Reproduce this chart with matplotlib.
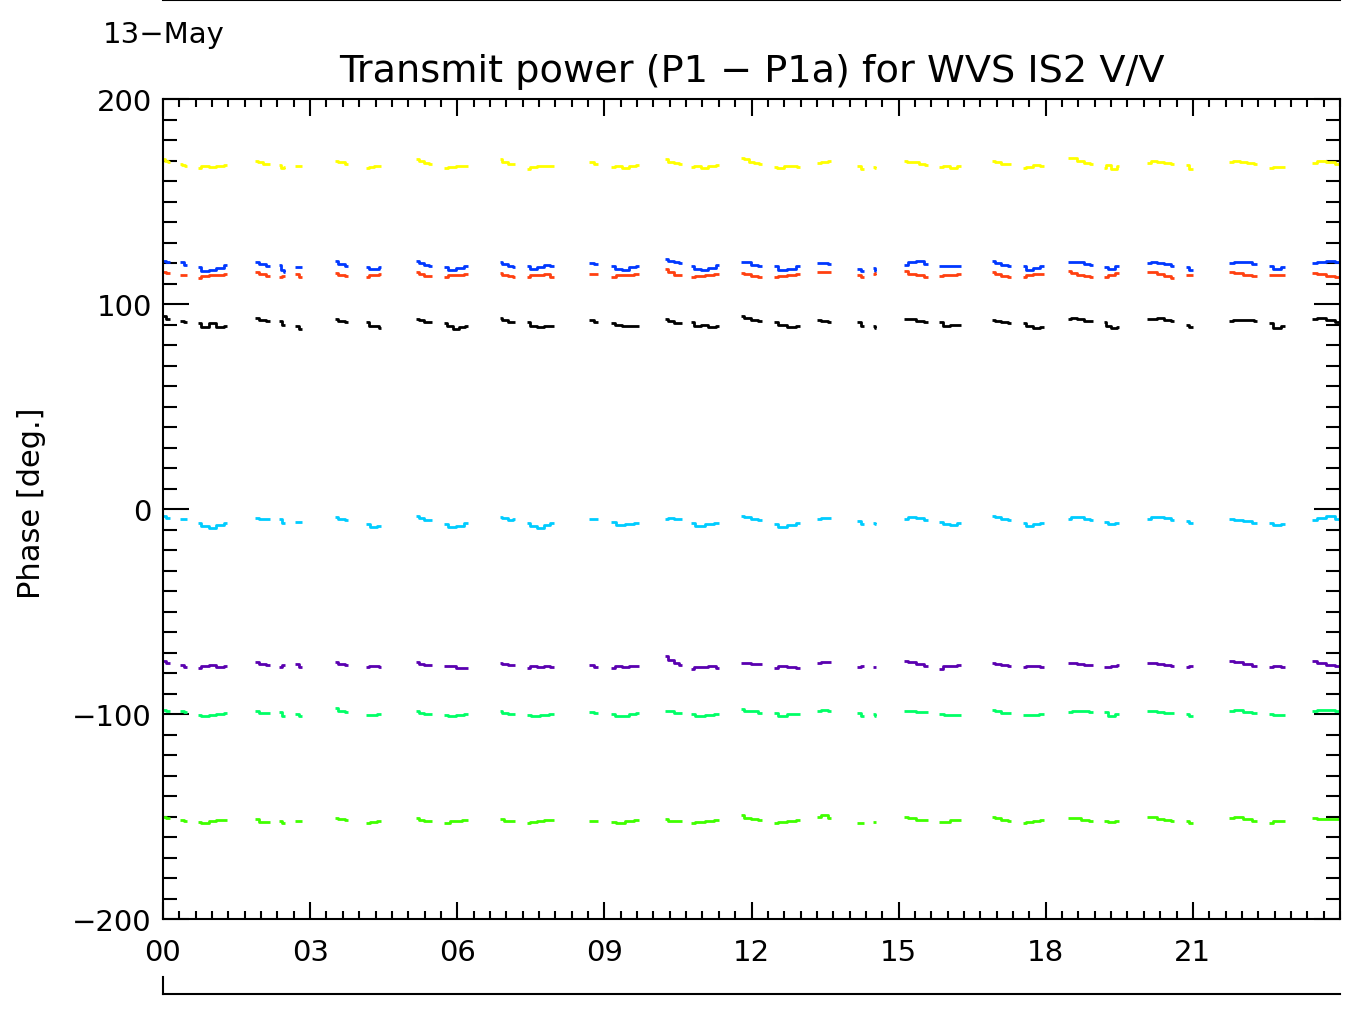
import numpy as np
import matplotlib
matplotlib.use("Agg")
import matplotlib.pyplot as plt
from matplotlib.ticker import MultipleLocator, FixedLocator, FixedFormatter
from matplotlib.lines import Line2D

# ---------------- data ----------------
title = "Transmit power (P1 \u2212 P1a) for WVS IS2 V/V"
date_label = "13\u2212May"
y_label = "Phase [deg.]"
x_tick_pos = [0, 3, 6, 9, 12, 15, 18, 21]
x_tick_labels = ["00", "03", "06", "09", "12", "15", "18", "21"]
y_tick_pos = [-200, -100, 0, 100, 200]

# data segments (hours UTC)
seg_start = [0.00, 0.35, 0.71, 1.88, 2.37, 2.69, 3.51, 4.14, 5.16, 5.73, 6.87, 7.42,
             8.69, 9.135, 10.24, 10.76, 11.786, 12.46, 13.34, 14.15, 14.48, 15.11,
             15.82, 16.90, 17.53, 18.45, 19.18, 20.07, 20.86, 21.74, 22.55, 23.43]
seg_end = [0.14, 0.49, 1.31, 2.18, 2.49, 2.84, 3.77, 4.45, 5.48, 6.22, 7.18, 7.97,
           8.87, 9.71, 10.58, 11.34, 12.21, 12.99, 13.62, 14.30, 14.54, 15.60,
           16.27, 17.29, 17.96, 18.97, 19.50, 20.62, 21.00, 22.31, 22.88, 24.0]

yellow = [[170.5, 170, 169.5], [168.5, 168, 167.5], [166.5, 167.5, 167, 167.5, 168],
          [170, 169.5, 168.5, 168.5], [168, 166.5, 167], [167.5, 167.5],
          [170, 169.5, 168.5], [166.5, 167, 167.5, 167.5], [170.5, 170, 169, 168.5],
          [166.5, 167, 167.5, 167.5], [170.5, 169.5, 168.5, 168.5],
          [166, 167, 167.5, 167.5, 167.5], [169.5, 168.5], [167, 167.5, 166.5, 167.5, 168],
          [170.5, 169.5, 169, 168.5], [167, 167.5, 166.5, 167.5, 168],
          [171, 170.5, 169.5, 169, 168.5], [167, 166.5, 167.5, 167.5, 167],
          [169, 169.5, 170], [167.5, 166], [167, 166.5], [170, 169.5, 169.5, 168.5, 168],
          [167, 167.5, 166.5, 167.5], [170, 169.5, 168.5, 168.5], [166.5, 167, 168, 167.5],
          [171, 171, 170, 169, 168.5], [166.5, 168, 166, 167.5],
          [169, 170, 169.5, 169, 168.5], [168, 166], [169.5, 170, 169.5, 169, 168.5],
          [166.5, 167, 167], [169, 170, 169.5, 168.5]]

blue = [[121, 120.5], [120.5, 119], [118, 116, 116.5, 117.5, 119], [120.5, 119.5, 118.5],
        [119, 116.5, 115.5], [118, 118], [121, 119.5, 118.5], [118, 117, 117, 118],
        [121, 120, 119, 118.5], [118, 116.5, 117.5, 118.5], [120.5, 119.5, 118.5, 118],
        [118.5, 117, 118, 119, 118.5], [120, 119.5], [118.5, 117, 116.5, 118, 118.5],
        [122, 121, 120.5, 120], [118.5, 117, 116.5, 117.5, 119], [120.5, 120.5, 119, 118.5],
        [118.5, 116.5, 117, 118.5], [120, 120, 119.5], [117, 116], [117.5, 116],
        [119, 120.5, 121, 119.5], [118.5, 118.5, 118.5, 118.5], [121, 120, 119, 118.5],
        [118.5, 116.5, 117.5, 118.5], [120.5, 120.5, 120.5, 119.5, 119], [118, 117, 118.5],
        [120, 120.5, 120, 119.5, 118.5], [118, 116.5], [120, 120.5, 120.5, 119.5],
        [118.5, 117, 118], [120, 120.5, 121, 120.5]]

red = [[115.5, 115], [114, 114], [112.5, 113.5, 114, 114, 114.5], [115.5, 114.5, 113.5],
       [113, 113.5], [114.5, 113], [115, 114, 113.5], [113, 114, 114, 114.5],
       [115.5, 114.5, 113.5, 113.5], [113, 114, 114, 114.5], [115, 114, 113.5, 113],
       [113, 114, 114, 114.5, 113], [114.5, 114.5], [113, 114, 114, 114.5],
       [117, 115.5, 114, 114], [113, 113.5, 114, 114.5], [115, 114.5, 113.5, 113],
       [113, 113.5, 114, 114.5], [115.5, 115.5, 115.5], [114, 113], [114.5, 115],
       [116, 114.5, 114, 113], [113.5, 114, 114, 114.5], [115.5, 114.5, 113.5, 113],
       [113, 114, 114.5, 114.5], [116, 115, 114, 113.5, 113], [113, 114, 115],
       [115.5, 115.5, 114.5, 113.5, 112.5], [114, 114], [115.5, 115, 114, 113.5],
       [114, 114, 114], [115, 114.5, 113.5, 113]]

black = [[94, 92.5], [91.5, 91], [90.5, 89, 90.5, 89, 89.5], [93, 92, 91.5], [91.5, 90],
         [89.5, 88], [92.5, 91.5, 91], [91, 89.5, 89.5, 88.5], [92.5, 92, 91, 91],
         [90.5, 89.5, 88, 89, 89.5], [93, 92, 91, 91], [91, 89.5, 89, 89.5, 89.5], [92, 91],
         [90.5, 90, 89.5, 89.5, 89.5], [92.5, 91.5, 90.5, 90.5], [91, 89.5, 90, 89, 89.5],
         [94, 93, 92, 91.5], [91, 90, 89, 89.5], [92, 91.5, 91], [91, 89.5], [89.5, 88.5],
         [92.5, 92.5, 91.5, 91], [91, 89.5, 90, 90], [92, 91.5, 91, 90.5],
         [90.5, 89.5, 88.5, 89], [92.5, 93, 92.5, 91.5, 91.5], [91, 89.5, 88.5, 89],
         [92.5, 92.5, 93, 92, 91.5], [90, 89], [91.5, 92, 92, 92, 91.5], [90.5, 88.5, 89.5],
         [92.5, 93, 92, 91]]

cyan = [[-3.5, -4.5], [-5, -5], [-7, -8.5, -9.5, -8, -7], [-4.5, -5, -5], [-5, -7],
        [-6.5, -6.5], [-4, -5, -5.5], [-7.5, -9, -8.5], [-3.5, -4.5, -5.5, -5.5],
        [-7.5, -9, -8.5, -7], [-4, -4.5, -5.5, -5], [-7, -8.5, -9.5, -8, -7], [-5, -5],
        [-6.5, -8, -7.5, -7], [-5, -4.5, -5, -5], [-7, -8.5, -7.5, -7], [-3.5, -4, -5, -5.5],
        [-7.5, -9, -8, -7], [-5, -4.5, -4.5], [-6, -7.5], [-7, -7.5], [-5, -4, -4.5, -5.5],
        [-6.5, -7.5, -8, -7], [-3.5, -4, -5, -5.5], [-7, -8.5, -7.5, -7],
        [-5, -4, -4, -5, -5.5], [-6.5, -7.5, -7], [-5, -4, -4, -4.5, -5.5], [-6, -7],
        [-5, -5.5, -6, -7], [-7, -8, -7.5], [-5.5, -4.5, -3.5, -5]]

purple = [[-74, -75], [-76, -77], [-77.5, -76.5, -76, -77, -76.5], [-74.5, -75.5, -76],
          [-77, -76], [-75.5, -77], [-74.5, -75.5, -76], [-77, -76.5, -76.5, -77],
          [-74.5, -75.5, -76, -76], [-76.5, -76.5, -77.5, -77.5], [-75, -75.5, -76, -76],
          [-77.5, -76.5, -77, -76.5, -77], [-76, -77], [-77.5, -76.5, -77, -76.5, -76.5],
          [-71.5, -73.5, -75, -76], [-78, -77, -77, -76.5, -77.5], [-75, -75, -75.5, -75.5],
          [-77.5, -76.5, -77, -77.5], [-75, -74.5, -74.5], [-77, -76.5], [-77, -77],
          [-74, -74.5, -75.5, -76.5], [-78, -76.5, -76.5, -76], [-75, -75.5, -76, -76.5],
          [-77, -76.5, -76.5, -77], [-75, -75, -75.5, -76, -76], [-77, -77, -76.5, -76],
          [-75, -75, -75.5, -76, -76.5], [-77, -76.5], [-74, -74.5, -75.5, -76.5],
          [-77, -76.5, -77], [-74, -75, -76, -76.5]]

spring = [[-98, -98.5], [-98.5, -99], [-100.5, -101, -100.5, -100, -99.5],
          [-98.5, -99.5, -99.5], [-99, -101], [-100, -101], [-97, -98.5, -99],
          [-100.5, -100.5, -100], [-98.5, -99.5, -100, -100], [-100.5, -101, -100.5, -100],
          [-98.5, -99.5, -100, -100], [-100.5, -101, -100.5, -100], [-99, -99.5],
          [-100, -101, -101, -100, -99.5], [-98.5, -98.5, -99.5, -99.5],
          [-100, -101, -100.5, -100], [-97.5, -98.5, -98.5, -99.5], [-99.5, -101, -100, -100],
          [-98.5, -98, -98.5], [-99.5, -101], [-100, -101], [-98.5, -98.5, -99, -99],
          [-100, -100.5, -100.5], [-98, -98.5, -99.5, -99.5], [-100.5, -100.5, -100],
          [-99, -98.5, -98.5, -99], [-99, -101, -100], [-98.5, -98.5, -99, -99.5, -99.5],
          [-100, -101], [-98.5, -98, -99, -99.5], [-100, -100.5, -100.5],
          [-98.5, -98, -98, -98.5]]

lime = [[-150, -150.5], [-151.5, -152], [-152.5, -153, -152, -151.5, -151.5],
        [-151, -152.5, -152.5], [-152, -153], [-152, -152], [-150.5, -151, -151.5],
        [-153, -152.5, -152], [-150.5, -151.5, -152, -152], [-153, -152, -151.5],
        [-151, -152, -152], [-153, -152.5, -152, -151.5, -151.5], [-152, -152],
        [-152.5, -153, -152, -151.5], [-151, -152, -152, -152], [-153, -152.5, -152, -151.5],
        [-149.5, -150.5, -151, -151.5], [-153, -152.5, -152, -151.5], [-150, -149.5, -150.5],
        [-153, -153], [-152.5, -152.5], [-150, -150.5, -151.5, -151.5],
        [-152.5, -152.5, -151.5, -151.5], [-150, -150.5, -151.5, -152],
        [-153, -152.5, -152, -151.5], [-150.5, -150.5, -151.5, -152], [-152, -152.5, -152],
        [-150, -150, -151, -151.5, -152], [-152, -153], [-150.5, -150, -151, -152],
        [-153, -152, -152], [-150.5, -151, -151, -151]]

series = [
    (yellow, "#ffff00"),
    (blue, "#0038ff"),
    (red, "#ff4010"),
    (black, "#000000"),
    (cyan, "#00ccff"),
    (purple, "#5a00b0"),
    (spring, "#00ff66"),
    (lime, "#40ff00"),
]

# ---------------- figure ----------------
plt.rcParams["font.family"] = ["DejaVu Sans"]
W, H = 1351, 1012
fig = plt.figure(figsize=(W / 100, H / 100), dpi=100)
L, R, T, B = 163, 1340, 100, 920
ax = fig.add_axes([L / W, 1 - B / H, (R - L) / W, (B - T) / H])

for vals_list, color in series:
    for s, e, vals in zip(seg_start, seg_end, vals_list):
        t = np.linspace(s, e, len(vals))
        ax.plot(t, vals, color=color, lw=2.0, drawstyle="steps-mid",
                solid_capstyle="butt", clip_on=False)

ax.set_xlim(0, 24)
ax.set_ylim(-200, 200)

ax.xaxis.set_major_locator(FixedLocator(x_tick_pos))
ax.xaxis.set_major_formatter(FixedFormatter(x_tick_labels))
ax.xaxis.set_minor_locator(MultipleLocator(1 / 3))
ax.yaxis.set_major_locator(FixedLocator(y_tick_pos))
ax.yaxis.set_minor_locator(MultipleLocator(10))

for sp in ax.spines.values():
    sp.set_linewidth(1.5)

ax.tick_params(axis="both", which="both", direction="in", top=True, right=True,
               width=1.5, labelsize=21)
ax.tick_params(axis="x", which="major", length=12, pad=14)
ax.tick_params(axis="x", which="minor", length=5.5)
ax.tick_params(axis="y", which="major", length=18.5, pad=8)
ax.tick_params(axis="y", which="minor", length=10)

# texts
fig.text((L + R) / 2 / W, 1 - 82 / H, title, ha="center", va="baseline", fontsize=27.5)
fig.text(103 / W, 1 - 43 / H, date_label, ha="left", va="baseline", fontsize=21)
fig.text(32 / W, 1 - 503 / H, y_label, ha="center", va="center", rotation=90, fontsize=22)

# extra IDL-style axis lines above and below
fig.add_artist(Line2D([L / W, R / W], [1 - 1 / H, 1 - 1 / H], color="black", lw=1.5))
fig.add_artist(Line2D([L / W, R / W], [1 - 995 / H, 1 - 995 / H], color="black", lw=1.5))
fig.add_artist(Line2D([L / W, L / W], [1 - 995 / H, 1 - 978 / H], color="black", lw=1.5))

fig.savefig("out.png", dpi=100)
